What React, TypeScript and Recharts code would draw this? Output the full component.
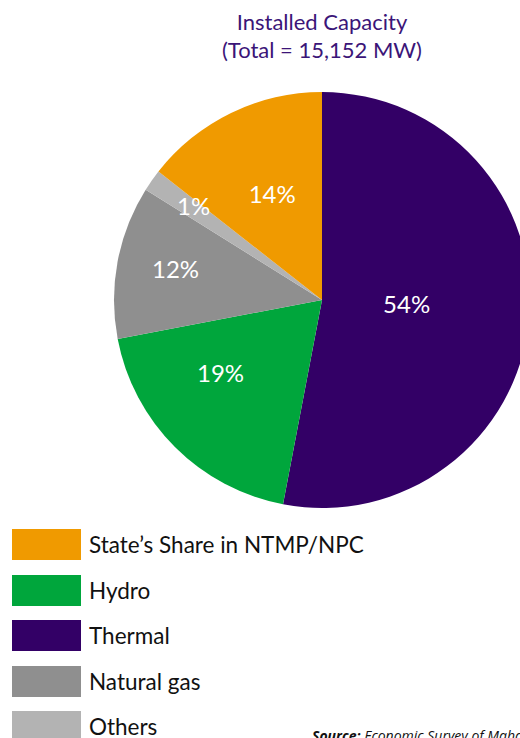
import { PieChart, Pie, Cell } from 'recharts';

const categories = ['Thermal', 'Hydro', 'Natural gas', 'Others', 'State’s Share in NTMP/NPC'];
const shares = [53.0, 19.0, 11.9, 1.7, 14.4];
const shareLabels = ['54%', '19%', '12%', '1%', '14%'];
const colors = ['#330066', '#00a63c', '#8f8f8f', '#b3b3b3', '#f09a00'];
const legendOrder = ['State’s Share in NTMP/NPC', 'Hydro', 'Thermal', 'Natural gas', 'Others'];

const data = categories.map((name, i) => ({ name, value: shares[i], label: shareLabels[i] }));

// where each percentage sits: distance from centre and a small turn off the mid angle
const labelRadius = [85, 127, 149, 157, 114];
const labelTurn = [0, -8, 0, 0, 0];
const RAD = Math.PI / 180;
const FONT = 'Lato, "Noto Sans", sans-serif';

const renderLabel = (props: any) => {
  const { cx, cy, midAngle, index } = props;
  const r = labelRadius[index];
  const a = (midAngle + labelTurn[index]) * RAD;
  const x = cx + r * Math.cos(-a);
  const y = cy + r * Math.sin(-a) - 4;
  return (
    <text x={x} y={y} fill="#fff" fontSize={24} fontFamily={FONT} textAnchor="middle" dominantBaseline="central">
      {data[index].label}
    </text>
  );
};

const LegendBox = () => (
  <div style={{ position: 'absolute', left: 12, top: 529 }}>
    {legendOrder.map((name) => (
      <div key={name} style={{ display: 'flex', alignItems: 'center', height: 31, marginBottom: 14.5 }}>
        <div style={{ width: 69, height: 31, background: colors[categories.indexOf(name)] }} />
        <span style={{ marginLeft: 8, fontSize: 22.5, fontFamily: FONT, color: '#111', whiteSpace: 'nowrap' }}>{name}</span>
      </div>
    ))}
  </div>
);

export default function App() {
  return (
    <div style={{ position: 'fixed', left: 0, top: 0, width: 520, height: 738, overflow: 'hidden', background: '#fff' }}>
      <PieChart width={520} height={738} margin={{ top: 0, right: 0, bottom: 0, left: 0 }}>
        <Pie
          data={data}
          dataKey="value"
          nameKey="name"
          cx={322}
          cy={300}
          outerRadius={208}
          startAngle={90}
          endAngle={-270}
          stroke="none"
          label={renderLabel}
          labelLine={false}
          isAnimationActive={false}
        >
          {data.map((d, i) => (
            <Cell key={d.name} fill={colors[i]} />
          ))}
        </Pie>
      </PieChart>
      <div style={{ position: 'absolute', left: 0, width: 644, top: 8, textAlign: 'center', color: '#3b1578', fontFamily: FONT, fontSize: 22, lineHeight: '28px' }}>
        Installed Capacity
        <br />
        (Total = 15,152 MW)
      </div>
      <LegendBox />
      <div style={{ position: 'absolute', left: 312, top: 726, fontFamily: '"Open Sans", sans-serif', fontSize: 14, fontStyle: 'italic', color: '#111', whiteSpace: 'nowrap' }}>
        <b>Source:</b> Economic Survey of Maharashtra
      </div>
    </div>
  );
}
